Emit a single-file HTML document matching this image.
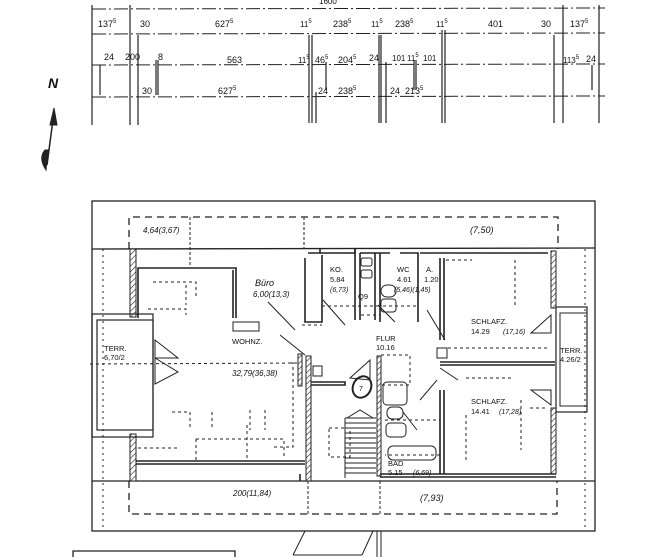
<!DOCTYPE html>
<html><head><meta charset="utf-8"><style>
html,body{margin:0;padding:0;background:#fff;}
svg{display:block;}
text{font-family:"Liberation Sans",sans-serif;fill:#111;}
</style></head><body>
<svg width="666" height="557" viewBox="0 0 666 557" xmlns="http://www.w3.org/2000/svg">
<defs>
<pattern id="h" width="4" height="4" patternUnits="userSpaceOnUse" patternTransform="rotate(45)">
<rect width="4" height="4" fill="#fff"/><line x1="0" y1="0" x2="0" y2="4" stroke="#222" stroke-width="1.2"/></pattern>
</defs>
<g stroke="#222" fill="none" stroke-width="1">
<!-- dimension lines -->
<line x1="92" y1="9" x2="605" y2="8" stroke-dasharray="14,3,2,3"/>
<line x1="92" y1="34" x2="605" y2="33" stroke-dasharray="14,3,2,3"/>
<line x1="92" y1="65" x2="605" y2="64" stroke-dasharray="14,3,2,3"/>
<line x1="92" y1="97" x2="605" y2="96" stroke-dasharray="14,3,2,3"/>
<g stroke-width="1.2">
<line x1="92" y1="5" x2="92" y2="125"/><line x1="130" y1="5" x2="130" y2="125"/><line x1="138" y1="35" x2="138" y2="125"/>
<line x1="100" y1="65" x2="100" y2="95"/><line x1="156" y1="60" x2="156" y2="95"/><line x1="158" y1="60" x2="158" y2="95"/>
<line x1="309" y1="35" x2="309" y2="123"/><line x1="312" y1="35" x2="312" y2="123"/><line x1="316" y1="92" x2="316" y2="123"/>
<line x1="326" y1="62" x2="326" y2="90"/>
<line x1="379" y1="35" x2="379" y2="123"/><line x1="381" y1="35" x2="381" y2="123"/><line x1="386" y1="62" x2="386" y2="123"/>
<line x1="414" y1="60" x2="414" y2="90"/><line x1="416" y1="60" x2="416" y2="90"/>
<line x1="442" y1="30" x2="442" y2="123"/><line x1="445" y1="30" x2="445" y2="123"/>
<line x1="554" y1="35" x2="554" y2="123"/><line x1="563" y1="5" x2="563" y2="123"/><line x1="592" y1="65" x2="592" y2="90"/><line x1="599" y1="5" x2="599" y2="123"/>
</g>
<!-- north arrow -->
<line x1="47" y1="165" x2="54" y2="112" stroke-width="1.5"/>
<path d="M54 108 L50 125 L57 125 Z" fill="#222"/>
<path d="M45 150 Q38 158 46 170 L48 150 Z" fill="#222"/>

<!-- outer frame -->
<rect x="92" y="201" width="503" height="330" stroke-width="1.3"/>
<line x1="92" y1="249" x2="595" y2="248" stroke-width="1.3"/>
<line x1="92" y1="481" x2="595" y2="481" stroke-width="1.3"/>
<!-- dashed roof outlines -->
<path d="M129 249 V217 H558 V249" stroke-dasharray="7,5" stroke-width="1.3"/>
<line x1="190" y1="217" x2="190" y2="266" stroke-dasharray="3,2"/>
<line x1="304" y1="217" x2="304" y2="249" stroke-dasharray="3,2"/>
<path d="M129 481 V514 H557 V481" stroke-dasharray="7,5" stroke-width="1.3"/>
<line x1="308" y1="481" x2="308" y2="514" stroke-dasharray="3,2"/>
<line x1="380" y1="481" x2="380" y2="514" stroke-dasharray="3,2"/>
<line x1="103" y1="249" x2="103" y2="530" stroke-dasharray="2,4"/>
<line x1="585" y1="249" x2="585" y2="530" stroke-dasharray="2,4"/>

<!-- hatched exterior walls -->
<rect x="130" y="249" width="6" height="68" fill="url(#h)"/>
<rect x="130" y="434" width="6" height="47" fill="url(#h)"/>
<rect x="551" y="251" width="5" height="57" fill="url(#h)"/>
<rect x="551" y="408" width="5" height="66" fill="url(#h)"/>
<rect x="306" y="356" width="5" height="125" fill="url(#h)"/>
<rect x="377" y="356" width="4" height="120" fill="url(#h)"/>
<rect x="298" y="354" width="4" height="32" fill="url(#h)"/>

<!-- interior walls -->
<g stroke-width="1.6">
<path d="M138 318 V268 H236 V318"/>
<line x1="136" y1="461" x2="305" y2="461"/>
<line x1="136" y1="464" x2="305" y2="464"/>
<path d="M233 270 V318"/>
<path d="M305 258 V322 H322 V255"/>
<path d="M308 253 H320 V249"/>
<path d="M320 253 H355 V249"/>
<path d="M355 249 V320 M360 253 V320 M375 253 V320 M380 253 V322"/>
<path d="M360 253 H390 M400 253 H418 V322 M420 253 H548"/>
<path d="M440 258 V340 M444 258 V340"/>
<path d="M440 362 H555 M440 365 H555"/>
<path d="M440 390 V474 M444 390 V474"/>
<path d="M380 474 H556 M380 477 H556"/>
<path d="M311 385 H345 V382 H311"/>
<path d="M300 474 V481"/>
</g>
<!-- door swings -->
<path d="M268 302 L295 330 M280 335 L305 355"/>
<path d="M323 300 L345 325 M378 305 L395 322 M427 310 L445 340 M440 368 L458 380"/>
<path d="M155 340 L178 358 L155 358 Z M155 358 L178 372 L155 384 Z"/>
<path d="M350 378 L370 360 L370 380 Z"/>
<path d="M531 333 L551 315 L551 333 Z M531 390 L551 405 L551 390 Z"/>
<path d="M403 412 L417 430 M420 400 L437 380"/>
<!-- dashed furniture -->
<g stroke-dasharray="3,3">
<line x1="90" y1="364" x2="300" y2="363"/>
<path d="M153 282 H196 V299 M148 309 H186 V315 M186 285 V305"/>
<path d="M172 412 H190 V430 M212 412 V430 M250 410 V430 M265 410 V430"/>
<path d="M138 448 H180 M196 439 V460 M196 439 H284 V458 M247 425 V460"/>
<path d="M291 363 H293 V447 H272"/>
<path d="M302 325 H322 M322 306 H380 M361 315 H380 M383 306 H418"/>
<path d="M446 260 H472 M515 260 V305 M448 348 H548 M466 378 H512 M466 415 V460 M521 400 V450 M530 408 H547"/>
<path d="M381 355 H410 V385 H381 M385 420 H440 V455 H385"/>
<path d="M329 428 H350 V457 H329 Z"/>
</g>
<!-- terraces -->
<rect x="92" y="314" width="61" height="123" stroke-width="1.2"/>
<rect x="97" y="320" width="56" height="110" stroke-width="1.2"/>
<rect x="556" y="307" width="31" height="105" stroke-width="1.2"/>
<rect x="560" y="313" width="27" height="93" stroke-width="1"/>
<!-- stairs -->
<path d="M345 418 H376 M345 478 V418 M345 423 H376 M345 428 H376 M345 433 H376 M345 438 H376 M345 443 H376 M345 448 H376 M345 453 H376 M345 458 H376 M345 463 H376 M345 468 H376 M345 473 H376"/>
<path d="M347 418 L360 410 L373 418"/>
<!-- bath fixtures -->
<rect x="383" y="382" width="24" height="23" rx="4"/>
<rect x="387" y="407" width="16" height="12" rx="5"/>
<rect x="386" y="423" width="20" height="14" rx="4"/>
<rect x="388" y="446" width="48" height="14" rx="5"/>
<rect x="361" y="258" width="11" height="8" rx="2"/><rect x="361" y="270" width="11" height="8" rx="2"/>
<rect x="381" y="285" width="15" height="12" rx="6"/><rect x="381" y="299" width="15" height="13" rx="3"/>
<rect x="233" y="322" width="26" height="9"/>
<rect x="437" y="348" width="10" height="10"/>
<rect x="313" y="366" width="9" height="10"/>
<ellipse cx="362" cy="387" rx="9" ry="11" transform="rotate(25 362 387)" stroke-width="2"/>
<!-- bottom sketch -->
<path d="M305 531 L293 555 M373 531 L362 555 M293 555 H362"/>
<line x1="377" y1="531" x2="377" y2="557"/><line x1="381" y1="531" x2="381" y2="557"/>
<path d="M73 557 V551 H235 V557" stroke-width="1.3"/>
</g>
<g font-size="9">
<text x="319" y="4" font-size="8">1600</text>
<text x="98" y="27">137<tspan font-size="6" dy="-4">5</tspan></text>
<text x="140" y="27">30</text>
<text x="215" y="27">627<tspan font-size="6" dy="-4">5</tspan></text>
<text x="300" y="27" font-size="8">11<tspan font-size="6" dy="-4">5</tspan></text>
<text x="333" y="27">238<tspan font-size="6" dy="-4">5</tspan></text>
<text x="371" y="27" font-size="8">11<tspan font-size="6" dy="-4">5</tspan></text>
<text x="395" y="27">238<tspan font-size="6" dy="-4">5</tspan></text>
<text x="436" y="27" font-size="8">11<tspan font-size="6" dy="-4">5</tspan></text>
<text x="488" y="27">401</text>
<text x="541" y="27">30</text>
<text x="570" y="27">137<tspan font-size="6" dy="-4">5</tspan></text>
<text x="104" y="60">24</text><text x="125" y="60">200</text><text x="158" y="60">8</text>
<text x="227" y="63">563</text>
<text x="298" y="63" font-size="8">11<tspan font-size="6" dy="-4">5</tspan></text>
<text x="315" y="63">46<tspan font-size="6" dy="-4">5</tspan></text>
<text x="338" y="63">204<tspan font-size="6" dy="-4">5</tspan></text>
<text x="369" y="61">24</text><text x="392" y="61" font-size="8">101</text>
<text x="407" y="61" font-size="8">11<tspan font-size="6" dy="-4">5</tspan></text>
<text x="423" y="61" font-size="8">101</text>
<text x="563" y="63" font-size="8">113<tspan font-size="6" dy="-4">5</tspan></text><text x="586" y="62">24</text>
<text x="142" y="94">30</text>
<text x="218" y="94">627<tspan font-size="6" dy="-4">5</tspan></text>
<text x="318" y="94">24</text><text x="338" y="94">238<tspan font-size="6" dy="-4">5</tspan></text>
<text x="390" y="94">24</text><text x="405" y="94">213<tspan font-size="6" dy="-4">5</tspan></text>
<text x="48" y="88" font-size="14" font-style="italic" font-weight="bold">N</text>
</g>
<g font-size="8" font-style="italic">
<text x="143" y="233">4,64(3,67)</text>
<text x="255" y="286" font-size="9">Büro</text>
<text x="253" y="297">6,00(13,3)</text>
<text x="232" y="376">32,79(36,38)</text>
<text x="470" y="233" font-size="9">(7,50)</text>
<text x="233" y="496">200(11,84)</text>
<text x="420" y="501" font-size="9">(7,93)</text>
<text x="330" y="292" font-size="7">(6,73)</text>
<text x="394" y="292" font-size="7">(5,46)(1,45)</text>
<text x="503" y="334" font-size="7">(17,16)</text>
<text x="499" y="414" font-size="7">(17,28)</text>
<text x="413" y="475" font-size="7">(6,69)</text>
</g>
<g font-size="7.5">
<text x="232" y="344">WOHNZ.</text>
<text x="104" y="351">TERR.</text><text x="104" y="360">6,70/2</text>
<text x="330" y="272">KO.</text><text x="330" y="282">5.84</text>
<text x="397" y="272">WC</text><text x="397" y="282">4.61</text>
<text x="426" y="272">A.</text><text x="424" y="282">1.20</text>
<text x="358" y="299">Q9</text>
<text x="376" y="341">FLUR</text><text x="376" y="350">10.16</text>
<text x="471" y="324">SCHLAFZ.</text><text x="471" y="334">14.29</text>
<text x="560" y="353">TERR.</text><text x="560" y="362">4.26/2</text>
<text x="471" y="404">SCHLAFZ.</text><text x="471" y="414">14.41</text>
<text x="388" y="466">BAD</text><text x="388" y="475">5.15</text>
<text x="359" y="391" font-size="7">7</text>
</g>
</svg>
</body></html>
